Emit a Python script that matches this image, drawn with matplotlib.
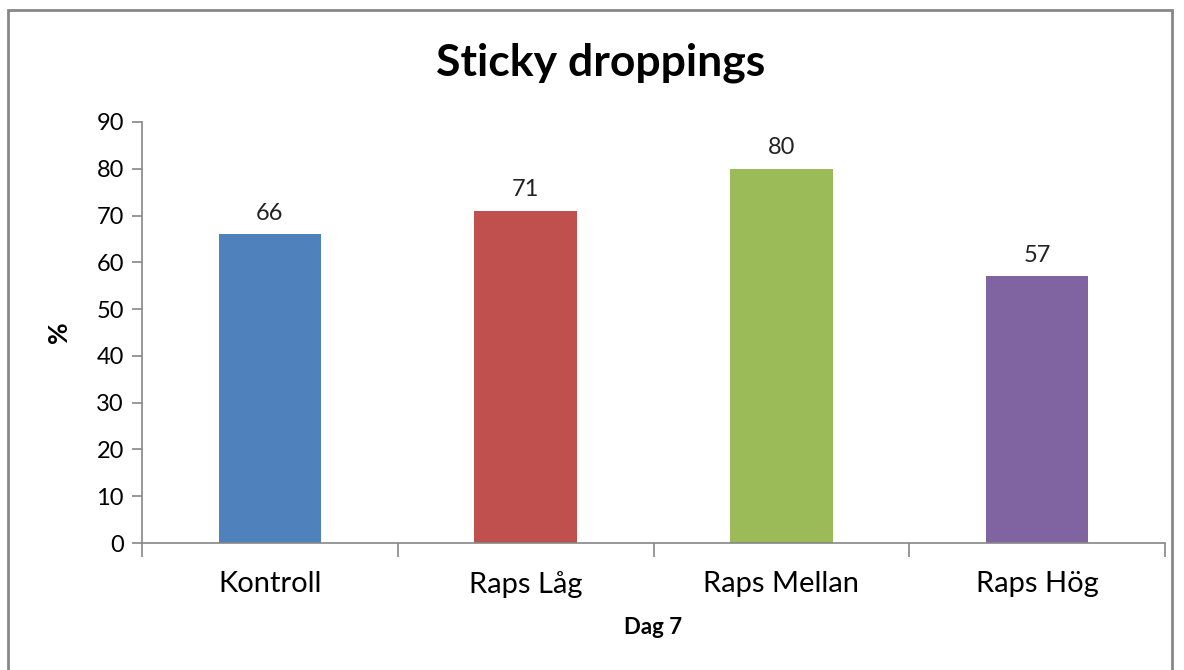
import matplotlib.pyplot as plt
from matplotlib.patches import Rectangle

categories = ['Kontroll', 'Raps Låg', 'Raps Mellan', 'Raps Hög']
values = [66, 71, 80, 57]
colors = ['#4F81BD', '#C0504D', '#9BBB59', '#8064A2']
yticks = [0, 10, 20, 30, 40, 50, 60, 70, 80, 90]

plt.rcParams['font.family'] = ['Lato', 'DejaVu Sans']

fig = plt.figure(figsize=(11.84, 6.7), dpi=100)
ax = fig.add_axes([142/1184, 1 - 543/670, (1165-142)/1184, (543-122)/670])

x = list(range(len(categories)))
ax.bar(x, values, width=0.4, color=colors, zorder=2)
for xi, v in zip(x, values):
    ax.text(xi, v + 2.3, str(v), ha='center', va='bottom', fontsize=17, color='#222222')

ax.set_xlim(-0.5, len(categories) - 0.5)
ax.set_ylim(0, 90)
ax.set_yticks(yticks)
ax.tick_params(axis='y', labelsize=17, length=7, width=1.2, color='#868686', pad=6)

ax.set_xticks([i - 0.5 for i in range(len(categories) + 1)])
ax.set_xticklabels([])
ax.set_xticks(x, minor=True)
ax.set_xticklabels(categories, minor=True, fontsize=21)
ax.tick_params(axis='x', which='major', length=10, width=1.2, color='#868686')
ax.tick_params(axis='x', which='minor', length=0, pad=20)

for s in ['top', 'right']:
    ax.spines[s].set_visible(False)
for s in ['left', 'bottom']:
    ax.spines[s].set_color('#868686')
    ax.spines[s].set_linewidth(1.2)

ax.set_ylabel('%', fontsize=19, fontweight='bold', labelpad=18)
ax.set_xlabel('Dag 7', fontsize=16, fontweight='bold', labelpad=14)
fig.text(601/1184, 1 - 63/670, 'Sticky droppings', ha='center', va='center',
         fontsize=32, fontweight='bold')

fig.patches.append(Rectangle((8/1184, -0.05), (1172-8)/1184, 1.05 - 10/670,
                             transform=fig.transFigure, fill=False,
                             edgecolor='#878787', linewidth=2))

fig.savefig('out.png', dpi=100)
